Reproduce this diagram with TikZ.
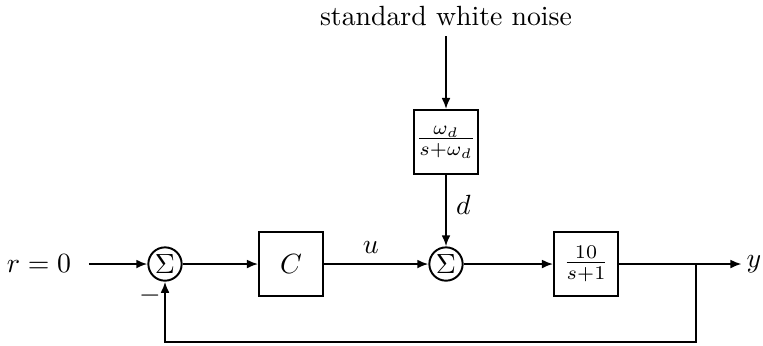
\documentclass[tikz,border=0pt]{standalone}
\usepackage{amsmath,amssymb}
\usetikzlibrary{arrows.meta}

\begin{document}
\begin{tikzpicture}[x=0.36pt,y=-0.36pt,line width=0.7pt,
    blk/.style={draw,minimum width=23pt,minimum height=23pt,inner sep=0pt},
    sumnode/.style={draw,circle,minimum size=12pt,inner sep=0pt},
    sig/.style={-{Latex[length=4pt,width=3.2pt]}}]
    \useasboundingbox (0,0) rectangle (763,345);
    % main loop
    \node[inner xsep=6pt] (ref) at (39,264) {$r=0$};
    \node[sumnode] (s1) at (165,264) {$\Sigma$};
    \node[blk] (ctrl) at (291,264) {$C$};
    \node[sumnode] (s2) at (446,264) {$\Sigma$};
    \node[blk] (plant) at (586,264) {$\frac{10}{s+1}$};
    \node[inner sep=1.5pt] (out) at (754,264) {$y$};
    \coordinate (br) at (696,264);
    \coordinate (fb) at (696,342);
    % disturbance
    \node (noise) at (446,16) {standard white noise};
    \node[blk] (filt) at (446,142) {$\frac{\omega_d}{s+\omega_d}$};
    % signals
    \draw[sig] (ref) -- (s1);
    \draw[sig] (s1) -- (ctrl);
    \draw[sig] (ctrl) -- (s2) node[pos=0.45,above=0pt] (ulab) {$u$};
    \draw[sig] (s2) -- (plant);
    \draw[sig] (plant) -- (out);
    \draw[sig] (noise) -- (filt);
    \draw[sig] (filt) -- (s2) node[pos=0.42,right=0pt] (dlab) {$d$};
    \draw[sig] (br) -- (fb) -| (s1.south);
    \node (minus) at (150,296) {$-$};
\end{tikzpicture}
\end{document}
